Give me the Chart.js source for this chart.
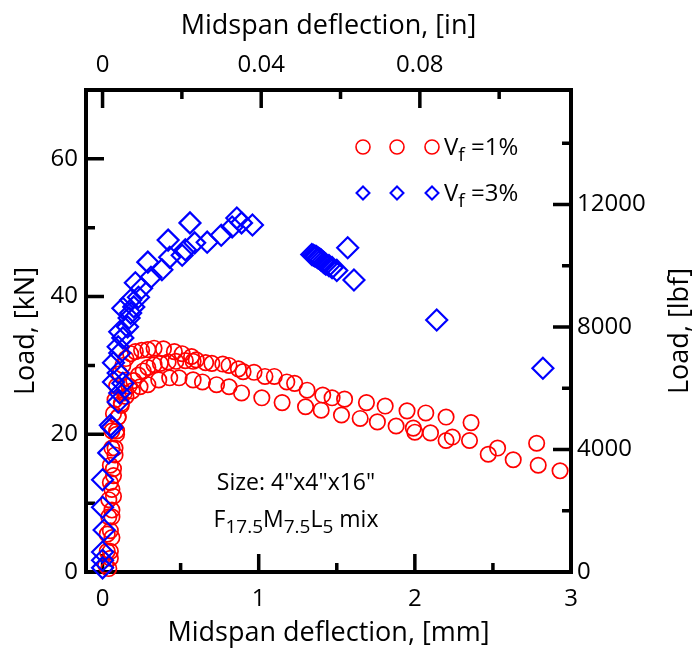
<!DOCTYPE html>
<html>
<head>
<meta charset="UTF-8">
<title>Load vs midspan deflection</title>
<script src="https://cdn.jsdelivr.net/npm/chart.js"></script>
<style>
  html, body { margin:0; padding:0; background:#fff; }
  #wrap { width:695px; height:654px; }
</style>
</head>
<body>
<div id="wrap"><canvas id="c" width="695" height="654"></canvas></div>
<script>
// Vf = 1% (three red point groups), deflection [mm] / load [kN]
const v1DeflA = [0.02,0.03,0.03,0.04,0.04,0.05,0.05,0.06,0.06,0.07,0.08,0.09,0.11,0.13,0.15,0.18,0.21,0.25,0.29,0.33,0.39,0.46,0.51,0.57,0.60,0.66,0.70,0.77,0.81,0.87,0.90,0.97,1.04,1.10,1.18,1.23,1.31,1.41,1.47,1.55,1.69,1.81,1.95,2.07,2.20,2.36,2.53,2.78];
const v1LoadA = [1.0,3.0,5.5,8.0,10.5,13.0,15.5,18.0,20.5,23.0,25.0,27.0,28.8,30.0,31.0,31.7,32.0,32.2,32.3,32.5,32.4,32.0,31.7,31.3,30.8,30.4,30.3,30.2,30.0,29.5,29.1,29.0,28.4,28.4,27.6,27.4,26.4,25.7,25.3,25.1,24.6,24.1,23.4,23.1,22.5,21.7,18.0,18.7];
const v1DeflB = [0.05,0.06,0.06,0.07,0.07,0.08,0.09,0.10,0.12,0.14,0.17,0.20,0.23,0.26,0.29,0.33,0.37,0.42,0.47,0.53,0.58];
const v1LoadB = [2.0,5.0,8.0,11.0,14.0,17.0,20.0,22.5,24.5,26.0,27.0,27.8,28.6,29.2,29.7,30.1,30.3,30.5,30.6,30.7,30.6];
const v1DeflC = [0.04,0.05,0.05,0.06,0.06,0.07,0.08,0.09,0.10,0.12,0.15,0.19,0.24,0.29,0.36,0.43,0.49,0.58,0.64,0.73,0.81,0.89,1.02,1.15,1.30,1.40,1.53,1.65,1.76,1.88,1.99,2.00,2.10,2.20,2.24,2.35,2.47,2.63,2.79,2.93];
const v1LoadC = [0.5,3.0,6.0,9.0,12.0,15.0,18.0,20.5,22.5,24.2,25.5,26.3,26.9,27.2,27.9,28.2,28.2,27.9,27.6,27.2,26.9,26.0,25.3,24.6,24.0,23.5,22.8,22.3,21.8,21.2,20.9,20.3,20.2,19.1,19.6,19.1,17.1,16.3,15.5,14.7];

// Vf = 3% (blue diamonds)
const v3Defl = [0.00,0.00,0.00,0.01,0.00,0.00,0.04,0.05,0.06,0.10,0.11,0.13,0.07,0.10,0.07,0.11,0.10,0.13,0.11,0.16,0.17,0.18,0.13,0.20,0.18,0.23,0.21,0.25,0.31,0.29,0.38,0.43,0.42,0.51,0.53,0.56,0.59,0.67,0.76,0.83,0.86,0.89,0.96,
                1.34,1.35,1.36,1.37,1.38,1.39,1.40,1.41,1.42,1.43,1.45,1.47,1.50,1.57,1.61,2.14,2.82];
const v3Load = [0.6,1.7,2.9,6.1,9.4,13.4,17.3,21.3,21.0,24.7,26.0,27.4,27.6,28.9,30.4,31.8,32.7,34.0,34.9,35.6,36.9,37.6,38.3,38.5,39.5,39.9,42.0,41.2,42.8,45.0,43.9,45.7,48.2,46.0,46.8,50.7,47.8,47.9,48.9,50.1,51.4,50.7,50.4,
                46.1,46.0,45.9,45.8,45.6,45.5,45.3,45.1,44.9,44.7,44.5,44.2,43.8,47.1,42.4,36.6,29.6];

// axis ticks
const mmTicks = [0, 1, 2, 3];
const mmMinor = [0.5, 1.5, 2.5];
const inTicks = [0, 0.04, 0.08];
const inMinor = [0.02, 0.06, 0.10];
const kNTicks = [0, 20, 40, 60];
const kNMinor = [10, 30, 50];
const lbfTicks = [0, 4000, 8000, 12000];
const lbfMinor = [2000, 6000, 10000, 14000];

const X_MIN = -0.106, X_MAX = 3, Y_MAX = 70;
const MM_PER_IN = 25.4, LBF_PER_KN = 224.809;

const RED = 'rgb(255,0,0)', BLUE = 'rgb(0,0,255)';
const FONT = '"Open Sans"';

const pts = (xs, ys) => xs.map((x, i) => ({x: x, y: ys[i]}));

function redSet(xs, ys) {
  return {
    data: pts(xs, ys), order: 2,
    pointStyle: 'circle', pointRadius: 7.7, pointBorderWidth: 1.7,
    borderColor: RED, backgroundColor: 'rgba(0,0,0,0)', showLine: false, clip: false
  };
}

// frame + inward ticks, drawn under the points
const framePlugin = {
  id: 'frame',
  beforeDatasetsDraw(chart) {
    const {ctx, chartArea: a, scales} = chart;
    ctx.save();
    ctx.strokeStyle = '#000';
    ctx.lineWidth = 4;
    ctx.strokeRect(a.left, a.top, a.right - a.left, a.bottom - a.top);
    ctx.lineWidth = 3.5;
    ctx.beginPath();
    const tick = (scale, vals, len, side) => {
      vals.forEach(v => {
        const p = scale.getPixelForValue(v);
        if (side === 'bottom') { ctx.moveTo(p, a.bottom); ctx.lineTo(p, a.bottom - len); }
        if (side === 'top') { ctx.moveTo(p, a.top); ctx.lineTo(p, a.top + len); }
        if (side === 'left') { ctx.moveTo(a.left, p); ctx.lineTo(a.left + len, p); }
        if (side === 'right') { ctx.moveTo(a.right, p); ctx.lineTo(a.right - len, p); }
      });
    };
    tick(scales.x, mmTicks, 18, 'bottom'); tick(scales.x, mmMinor, 9, 'bottom');
    tick(scales.x2, inTicks, 18, 'top'); tick(scales.x2, inMinor, 9, 'top');
    tick(scales.y, kNTicks, 18, 'left'); tick(scales.y, kNMinor, 9, 'left');
    tick(scales.y2, lbfTicks, 18, 'right'); tick(scales.y2, lbfMinor, 9, 'right');
    ctx.stroke();
    ctx.restore();
  },
  afterDraw(chart) {
    const {ctx, chartArea: a} = chart;
    ctx.save();
    ctx.fillStyle = '#000';
    ctx.textBaseline = 'alphabetic';

    // right axis title, reading bottom to top
    ctx.save();
    ctx.translate(680, (a.top + a.bottom) / 2);
    ctx.rotate(-Math.PI / 2);
    ctx.font = '27px ' + FONT;
    ctx.textAlign = 'center';
    ctx.textBaseline = 'middle';
    ctx.fillText('Load, [lbf]', 0, 0);
    ctx.restore();

    // text runs with subscripts: [text, isSub]
    const runs = (parts, x, y, align, big, small) => {
      const w = parts.reduce((s, p) => {
        ctx.font = (p[1] ? small : big) + 'px ' + FONT;
        return s + ctx.measureText(p[0]).width;
      }, 0);
      let cx = align === 'center' ? x - w / 2 : x;
      ctx.textAlign = 'left';
      parts.forEach(p => {
        ctx.font = (p[1] ? small : big) + 'px ' + FONT;
        ctx.fillText(p[0], cx, y + (p[1] ? 6 : 0));
        cx += ctx.measureText(p[0]).width;
      });
    };

    // legend
    const legendRows = [
      {y: 147, style: 'circle', r: 7, bw: 1.6, color: RED, label: [['V', 0], ['f', 1], [' =1%', 0]]},
      {y: 193, style: 'rectRot', r: 6.5, bw: 2, color: BLUE, label: [['V', 0], ['f', 1], [' =3%', 0]]}
    ];
    legendRows.forEach(row => {
      ctx.strokeStyle = row.color;
      ctx.fillStyle = 'rgba(0,0,0,0)';
      ctx.lineWidth = row.bw;
      [363, 397, 432].forEach(px => {
        Chart.helpers.drawPoint(ctx, {pointStyle: row.style, radius: row.r, rotation: 0, borderWidth: row.bw}, px, row.y);
      });
      ctx.fillStyle = '#000';
      runs(row.label, 444, row.y + 8, 'left', 24, 19);
    });

    // specimen note
    runs([['Size: 4"x4"x16"', 0]], 296, 490, 'center', 23, 19);
    runs([['F', 0], ['17.5', 1], ['M', 0], ['7.5', 1], ['L', 0], ['5', 1], [' mix', 0]], 296, 527, 'center', 23, 19);
    ctx.restore();
  }
};

const tickFont = {family: 'Open Sans', size: 24};
const titleFont = {family: 'Open Sans', size: 27};
const setTicks = vals => scale => { scale.ticks = vals.map(v => ({value: v})); };

new Chart(document.getElementById('c'), {
  type: 'scatter',
  data: {
    datasets: [
      redSet(v1DeflA, v1LoadA),
      redSet(v1DeflB, v1LoadB),
      redSet(v1DeflC, v1LoadC),
      {
        data: pts(v3Defl, v3Load), order: 1,
        pointStyle: 'rectRot', pointRadius: 10.5, pointBorderWidth: 2.2,
        borderColor: BLUE, backgroundColor: 'rgba(0,0,0,0)', showLine: false, clip: false
      }
    ]
  },
  options: {
    responsive: false,
    animation: false,
    devicePixelRatio: 1,
    events: [],
    layout: {padding: 0},
    plugins: {legend: {display: false}, tooltip: {enabled: false}},
    scales: {
      x: {
        type: 'linear', position: 'bottom', min: X_MIN, max: X_MAX,
        afterBuildTicks: setTicks(mmTicks),
        afterFit: s => { s.height = 82; },
        grid: {display: false, drawTicks: false}, border: {display: false},
        ticks: {font: tickFont, color: '#000', padding: 13, maxRotation: 0, callback: v => String(v)},
        title: {display: true, text: 'Midspan deflection, [mm]', font: titleFont, color: '#000', padding: {top: 0, bottom: 4}}
      },
      x2: {
        type: 'linear', position: 'top', min: X_MIN / MM_PER_IN, max: X_MAX / MM_PER_IN,
        afterBuildTicks: setTicks(inTicks),
        afterFit: s => { s.height = 90; },
        grid: {display: false, drawTicks: false}, border: {display: false},
        ticks: {font: tickFont, color: '#000', padding: 10, maxRotation: 0, callback: v => String(v)},
        title: {display: true, text: 'Midspan deflection, [in]', font: titleFont, color: '#000', padding: {top: 10, bottom: 0}}
      },
      y: {
        type: 'linear', position: 'left', min: 0, max: Y_MAX,
        afterBuildTicks: setTicks(kNTicks),
        afterFit: s => { s.width = 86; },
        grid: {display: false, drawTicks: false}, border: {display: false},
        ticks: {font: tickFont, color: '#000', padding: 8, callback: v => String(v)},
        title: {display: true, text: 'Load, [kN]', font: titleFont, color: '#000', padding: {top: 10, bottom: 0}}
      },
      y2: {
        type: 'linear', position: 'right', min: 0, max: Y_MAX * LBF_PER_KN,
        afterBuildTicks: setTicks(lbfTicks),
        afterFit: s => { s.width = 124; },
        grid: {display: false, drawTicks: false}, border: {display: false},
        ticks: {font: tickFont, color: '#000', padding: 6, callback: v => String(v)}
      }
    }
  },
  plugins: [framePlugin]
});
</script>
</body>
</html>
